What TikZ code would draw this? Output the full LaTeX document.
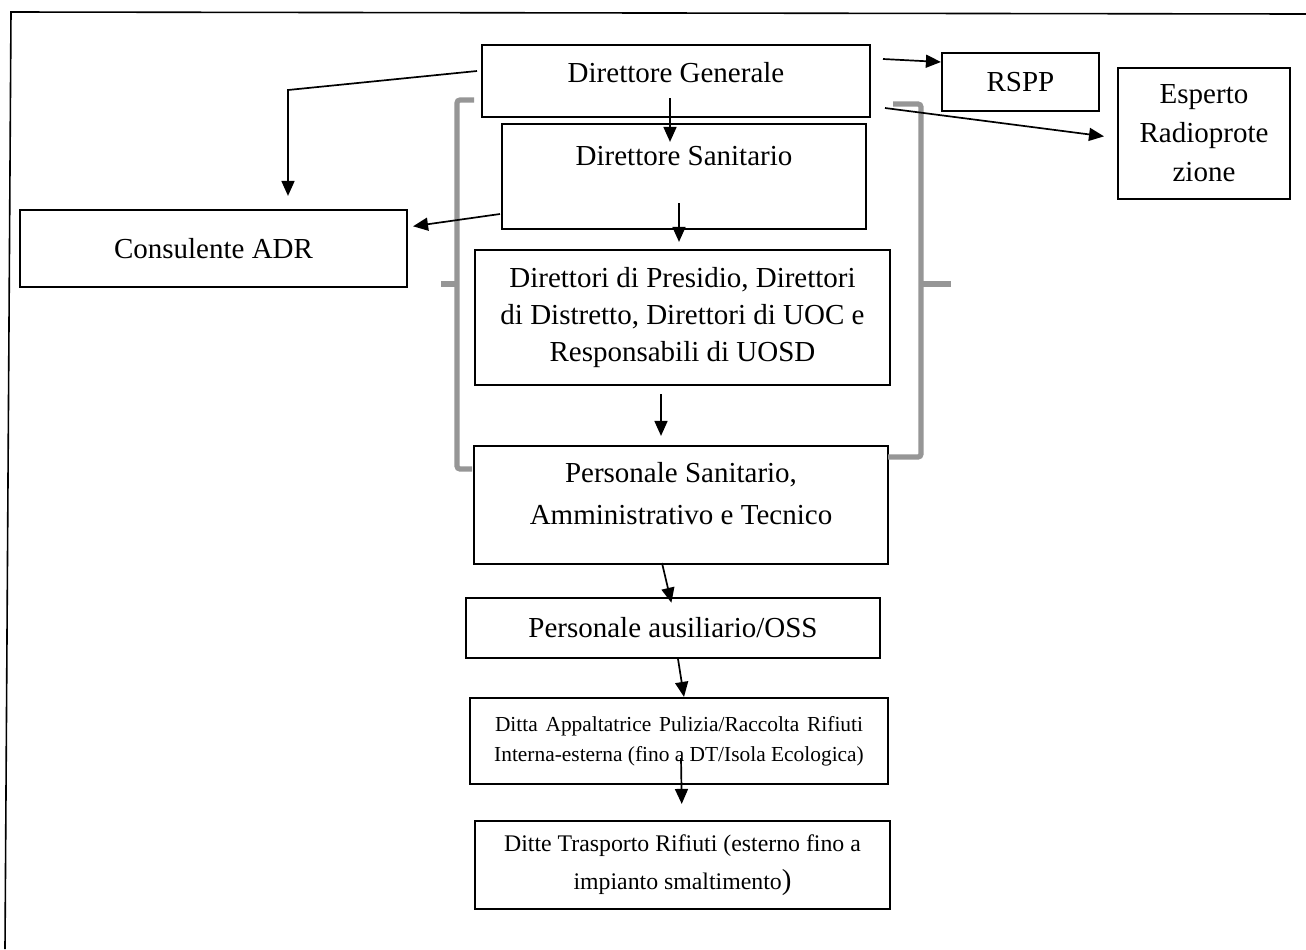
\documentclass[tikz,border=0pt]{standalone}
\usepackage{fontspec}
\setmainfont{Liberation Serif}
\usetikzlibrary{arrows.meta,calc}
\definecolor{brkgray}{RGB}{150,150,150}
\newcommand\myfs[2]{\fontsize{#1}{#2}\selectfont}
\begin{document}
\begin{tikzpicture}[x=0.5pt,y=-0.5pt,
  box/.style={draw, line width=1.1pt, inner sep=0pt, align=center, font=\myfs{14.5pt}{18.5pt}},
  arr/.style={-{Triangle[length=7.5pt,width=6.5pt]}, line width=0.85pt},
  brk/.style={draw=brkgray, line width=2.6pt, rounded corners=1.5pt},
  framel/.style={line width=0.8pt}]
\fill[white] (0,0) rectangle (1306,949);
\useasboundingbox (0,0) rectangle (1306,949);
% outer frame (top and left edges)
\draw[framel] (1306,14) -- (11,12) -- (5,949);

% boxes
\node[box, minimum width=194pt, minimum height=36pt, text height=10pt, text depth=8.4pt] (dg) at (676,81) {Direttore Generale};
\node[box, minimum width=78.5pt, minimum height=29pt] (rspp) at (1020.5,82) {RSPP};
\node[box, minimum width=86pt, minimum height=65.5pt, font=\myfs{14.5pt}{19.5pt}] (esp) at (1204,133.5) {Esperto\\Radioprote\\zione};
\node[box, minimum width=182pt, minimum height=52.5pt, text height=10pt, text depth=21pt] (ds) at (684,176.5) {Direttore Sanitario};
\node[box, minimum width=193.5pt, minimum height=38.5pt] (adr) at (213.5,248.5) {Consulente ADR};
\node[box, minimum width=207.5pt, minimum height=67.5pt] (dir) at (682.5,317.5) {Direttori di Presidio, Direttori\\di Distretto, Direttori di UOC e\\Responsabili di UOSD};
\node[box, minimum width=207pt, minimum height=59pt,
  label={[font=\myfs{14.5pt}{21pt}, align=center, yshift=5.5pt]center:{Personale Sanitario,\\Amministrativo e Tecnico}}] (ps) at (681,505) {};
\node[box, minimum width=207pt, minimum height=30pt] (oss) at (673,628) {Personale ausiliario/OSS};
\node[box, minimum width=209pt, minimum height=43pt, font=\myfs{10.7pt}{15pt}] (ditta) at (679,741)
  {\makebox[184pt][s]{Ditta Appaltatrice Pulizia/Raccolta Rifiuti}\\Interna-esterna (fino a DT/Isola Ecologica)};
\node[box, minimum width=207.5pt, minimum height=44pt, font=\myfs{11.9pt}{19pt}] (ditte) at (682.5,865)
  {Ditte Trasporto Rifiuti (esterno fino a\\impianto smaltimento{\myfs{14.5pt}{19pt})}};

% brackets
\draw[brk] (474,100) -- (457,100) -- (457,469) -- (472,469);
\draw[brk] (457,284) -- (441,284);
\draw[brk] (893,104) -- (921,104) -- (921,457) -- (888,457);
\draw[brk] (921,284) -- (951,284);

% connectors
\coordinate (s1) at (477,71);
\coordinate (k1) at (288,90);
\draw[arr, shorten >=6.5pt] (s1) -- (k1) -- (k1 |- adr.north);
\coordinate (s2) at (670,98);
\draw[arr, shorten >=-9.5pt] (s2) -- (s2 |- ds.north);
\coordinate (s3) at (883,59);
\draw[arr] (s3) -- (rspp.west |- 0,62);
\coordinate (s4) at (885,108);
\draw[arr, shorten >=6.5pt] (s4) -- (esp.west |- 0,138);
\coordinate (s5) at (500,214);
\draw[arr, shorten >=2.5pt] (s5) -- (adr.east |- 0,227);
\coordinate (s6) at (679,203);
\draw[arr, shorten >=3.5pt] (s6) -- (s6 |- dir.north);
\coordinate (s7) at (661,394);
\draw[arr, shorten >=4.5pt] (s7) -- (s7 |- ps.north);
\coordinate (s8) at (662,563);
\draw[arr, shorten >=-3pt] (s8) -- (oss.north -| 670,0);
\coordinate (s9) at (678,659);
\draw[arr] (s9) -- (ditta.north -| 684,0);
\coordinate (s10) at (681,758);
\draw[arr, shorten >=8pt] (s10) -- (ditte.north -| 682,0);
\end{tikzpicture}
\end{document}
